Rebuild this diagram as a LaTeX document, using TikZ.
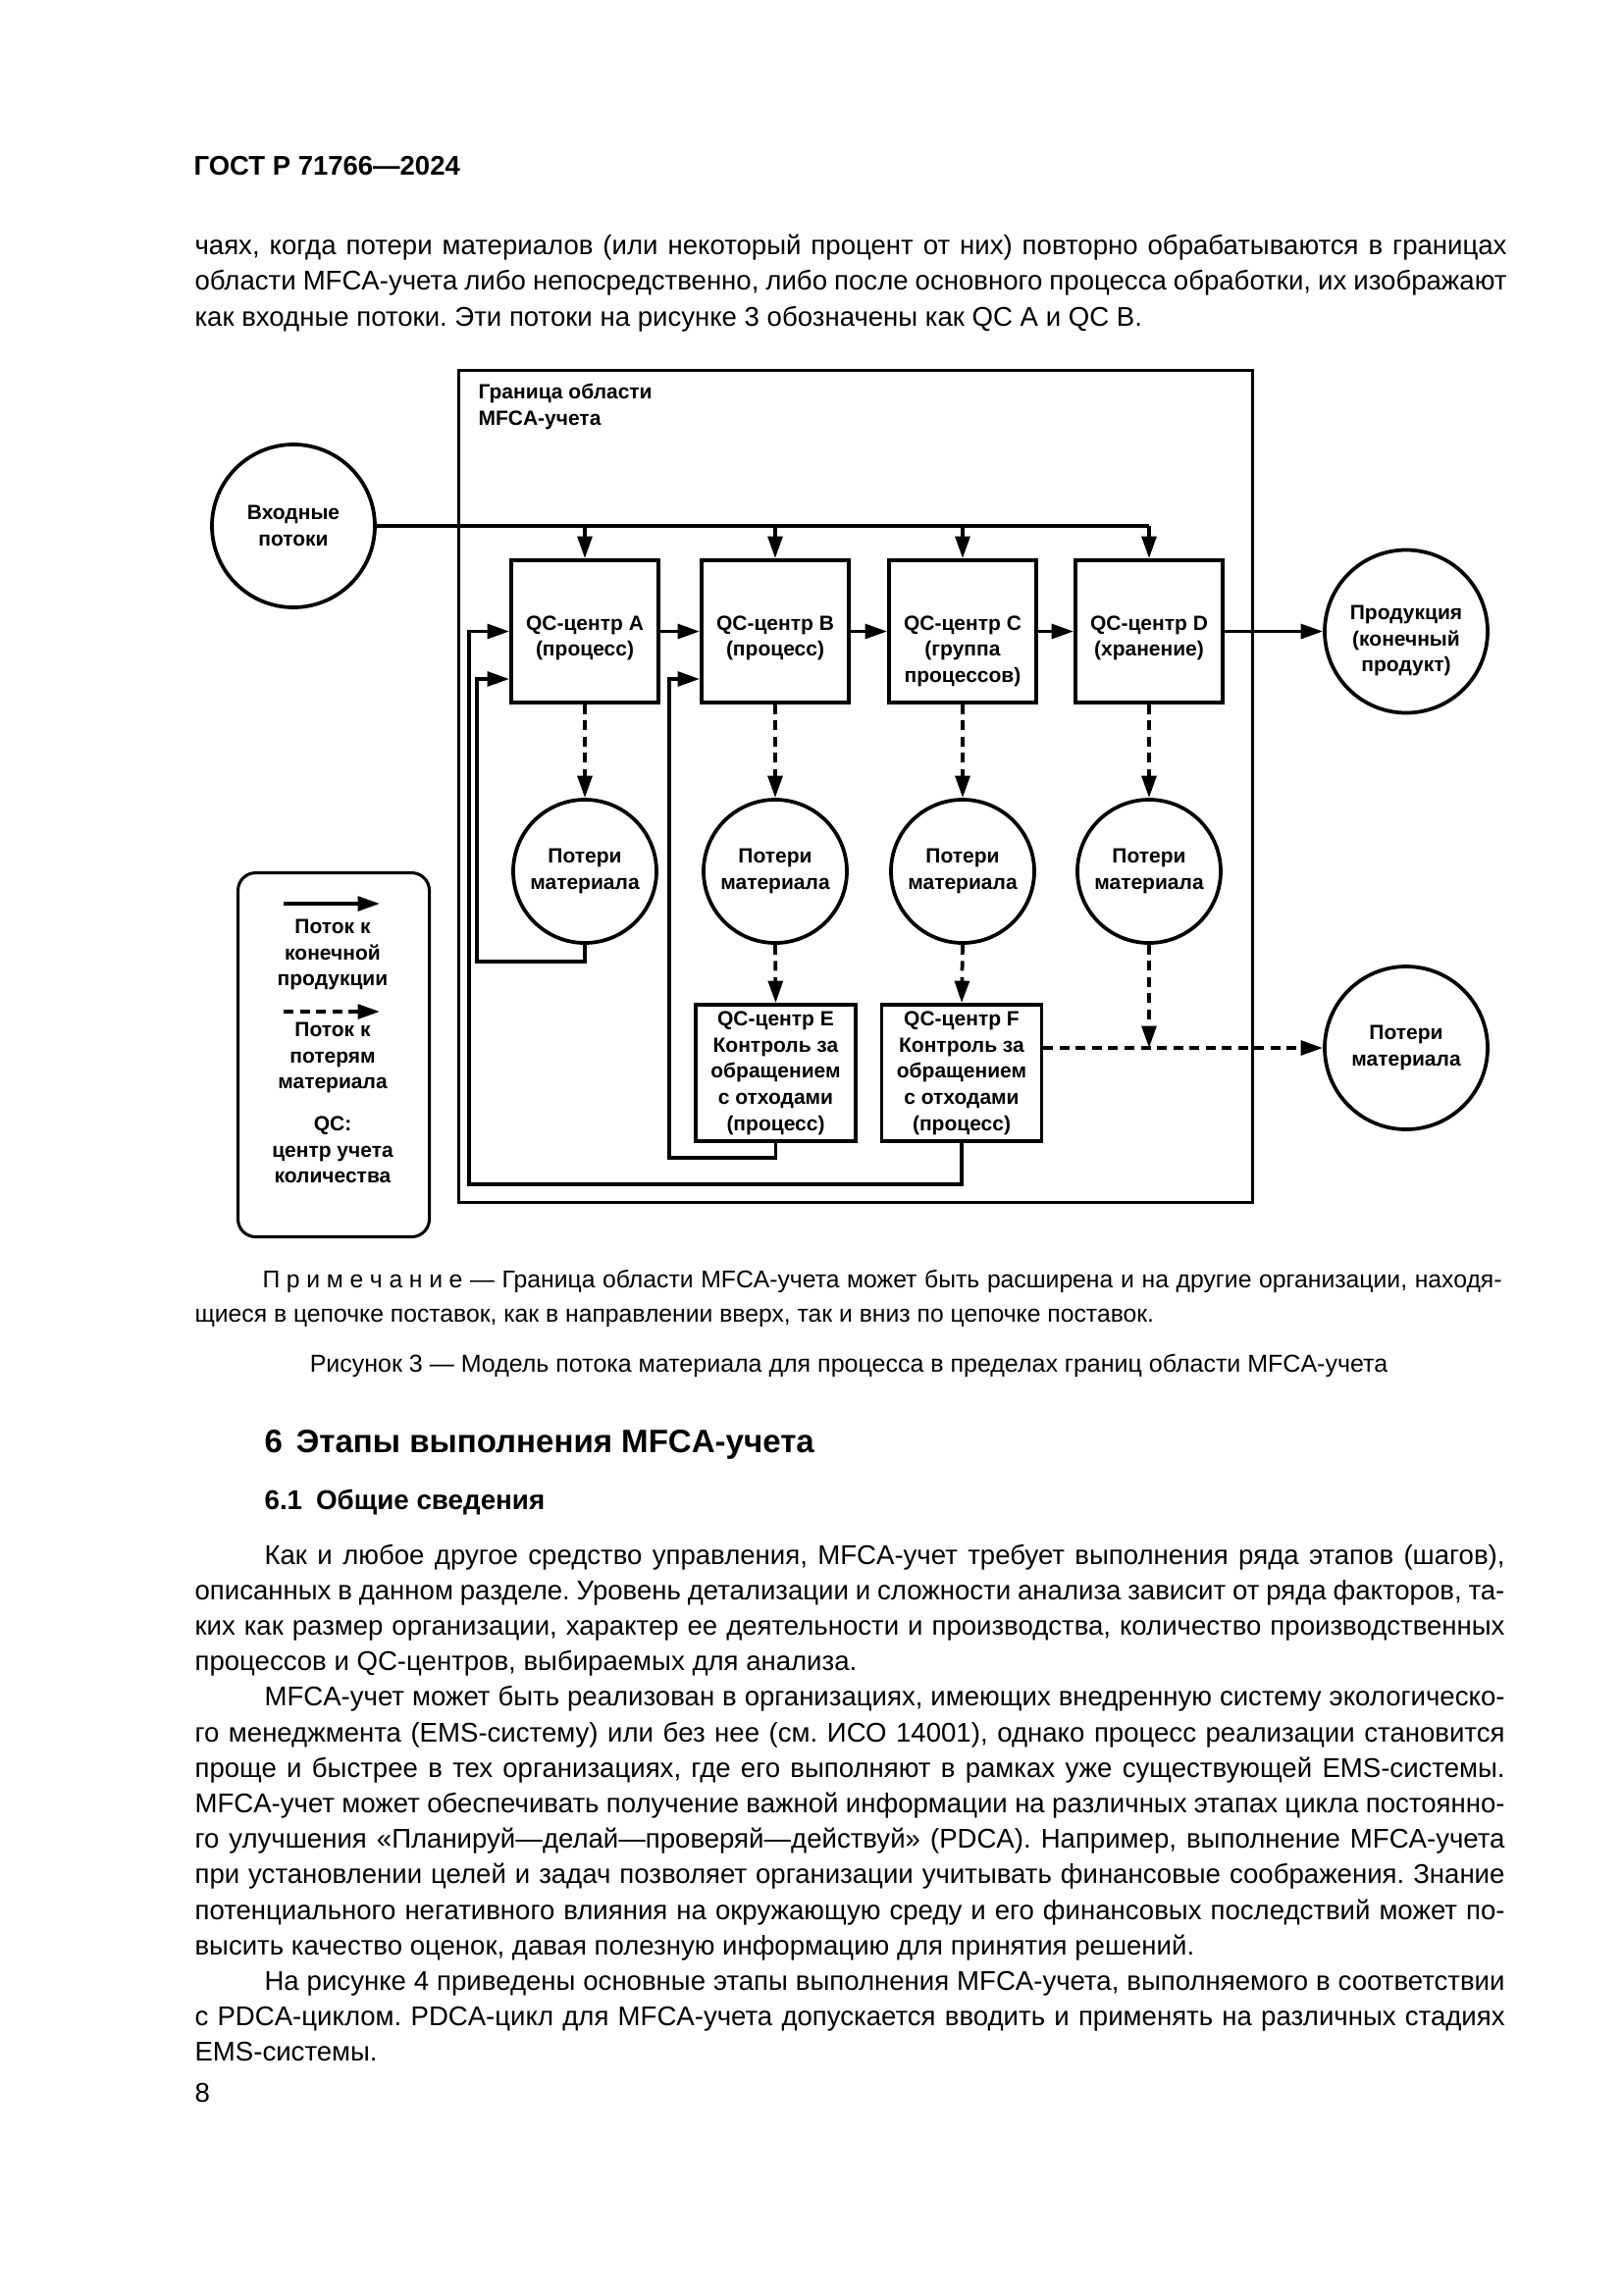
\documentclass[tikz,border=0pt]{standalone}
\usepackage{fontspec}
\setmainfont{Liberation Sans}
\usetikzlibrary{arrows.meta,calc}
\frenchspacing
\newdimen\pxu \pxu=0.36pt
\newcommand\bodyf{\fontsize{9.93pt}{13pt}\selectfont}
\newcommand\notef{\fontsize{8.9pt}{12pt}\selectfont}
\newcommand\capf{\fontsize{9pt}{12pt}\selectfont}
\newcommand\headf{\fontsize{9.9pt}{12pt}\selectfont\bfseries}
\newcommand\secf{\fontsize{11.9pt}{14pt}\selectfont\bfseries}
\newcommand\subhf{\fontsize{10pt}{13pt}\selectfont\bfseries}
\newcommand\dfont{\fontsize{7.56pt}{9.6pt}\selectfont\bfseries}
\newcommand\jline[5][\bodyf]{\node[anchor=base west,inner sep=0pt,font=#1] (#2) at (#3) {\hbox to #4\pxu{#5}};}
\newcommand\nline[4][\bodyf]{\node[anchor=base west,inner sep=0pt,font=#1] (#2) at (#3) {#4};}
\begin{document}
\begin{tikzpicture}[x=0.36pt,y=-0.36pt,
  ln/.style={line width=1.35pt},
  arr/.style={ln,-{Triangle[length=8.1pt,width=5.3pt]}},
  darr/.style={arr,dash pattern=on 3.6pt off 2.35pt},
  qbox/.style={draw,ln,minimum width=150\pxu,minimum height=145\pxu,inner sep=0pt},
  wbox/.style={draw,ln,minimum width=163\pxu,minimum height=139\pxu,inner sep=0pt,font=\dfont,align=center},
  circ/.style={draw,ln,circle,minimum size=146\pxu,inner sep=0pt,font=\dfont,align=center},
  bigcirc/.style={circ,minimum size=166\pxu},
  dtext/.style={font=\dfont,align=center,inner sep=0pt}]
\useasboundingbox[fill=white] (0,0) rectangle (1654,2339);

% ---- page header and upper text
\nline[\headf]{h0}{197,178}{ГОСТ Р 71766—2024}
\jline{p1}{198,259}{1337}{чаях, когда потери материалов (или некоторый процент от них) повторно обрабатываются в границах}
\jline{p2}{198,295}{1337}{области MFCA-учета либо непосредственно, либо после основного процесса обработки, их изображают}
\nline{p3}{198,332}{как входные потоки. Эти потоки на рисунке 3 обозначены как QC A и QC B.}

% ---- diagram
\node[draw,line width=1.05pt,minimum width=809\pxu,minimum height=848\pxu,anchor=north west,inner sep=0pt] (bound) at (466,376) {};
\node[dtext,anchor=north west,align=left] (btitle) at (487,391) {Граница области\\MFCA-учета};

\node[bigcirc] (in) at (299,536) {Входные\\потоки};
\node[qbox] (A) at (596,643.5) {};
\node[qbox] (B) at (790,643.5) {};
\node[qbox] (C) at (981,643.5) {};
\node[qbox] (D) at (1171,643.5) {};
\node[dtext,anchor=north] (tA) at (596,627) {QC-центр A\\(процесс)};
\node[dtext,anchor=north] (tB) at (790,627) {QC-центр B\\(процесс)};
\node[dtext,anchor=north] (tC) at (981,627) {QC-центр C\\(группа\\процессов)};
\node[dtext,anchor=north] (tD) at (1171,627) {QC-центр D\\(хранение)};
\node[bigcirc] (prod) at (1433,643.5) {};
\node[dtext] (tprod) at (1433,653) {Продукция\\(конечный\\продукт)};

\node[circ] (lA) at (596,888) {Потери\\материала};
\node[circ] (lB) at (790,888) {Потери\\материала};
\node[circ] (lC) at (981,888) {Потери\\материала};
\node[circ] (lD) at (1171,888) {Потери\\материала};

\node[wbox] (E) at (790.5,1093.5) {QC-центр E\\Контроль за\\обращением\\с отходами\\(процесс)};
\node[wbox] (F) at (980,1093.5) {QC-центр F\\Контроль за\\обращением\\с отходами\\(процесс)};
\node[bigcirc] (lout) at (1433,1068) {Потери\\материала};

% input distribution line
\coordinate (jD) at (D.north |- in.east);
\draw[ln] (in.east) -- (jD);
\foreach \X in {A,B,C,D} \draw[arr] (\X.north |- in.east) -- (\X.north);
% product flow
\draw[arr] (A.east) -- (B.west);
\draw[arr] (B.east) -- (C.west);
\draw[arr] (C.east) -- (D.west);
\draw[arr] (D.east) -- (prod.west);
% loss flow
\foreach \X in {A,B,C,D} \draw[darr] (\X.south) -- (l\X.north);
\draw[darr] (lB.south) -- (E.north);
\draw[darr] (lC.south) -- (F.north);
\draw[darr] (lD.south) -- (lD.south |- lout.west);
\draw[darr] (F.east |- lout.west) -- (lout.west);
% feedback
\draw[arr] (lA.south) |- (486,980) |- ($(A.west)+(0,48.5)$);
\draw[arr] (E.south) |- (682,1180) |- ($(B.west)+(0,48.5)$);
\draw[arr] (F.south) |- (478,1207) |- (A.west);

% legend
\node[draw,line width=1.1pt,rounded corners=6.5pt,minimum width=195\pxu,minimum height=371\pxu,anchor=north west,inner sep=0pt] (leg) at (241,888) {};
\coordinate (ls1) at (289,921); \coordinate (le1) at (387,921);
\coordinate (ls2) at (289,1031); \coordinate (le2) at (387,1031);
\draw[arr] (ls1) -- (le1);
\draw[darr] (ls2) -- (le2);
\node[dtext] (lt1) at (339,973) {Поток к\\конечной\\продукции};
\node[dtext] (lt2) at (339,1078) {Поток к\\потерям\\материала};
\node[dtext] (lt3) at (339,1172) {QC:\\центр учета\\количества};

% ---- note and caption
\jline[\notef]{n1}{267,1312}{1263}{П\kern2.4pt р\kern2.4pt и\kern2.4pt м\kern2.4pt е\kern2.4pt ч\kern2.4pt а\kern2.4pt н\kern2.4pt и\kern2.4pt е — Граница области MFCA-учета может быть расширена и на другие организации, находя-}
\nline[\notef]{n2}{198,1347}{щиеся в цепочке поставок, как в направлении вверх, так и вниз по цепочке поставок.}
\node[anchor=base,inner sep=0pt,font=\capf] (cap) at (865,1398) {Рисунок 3 — Модель потока материала для процесса в пределах границ области MFCA-учета};

% ---- section 6
\nline[\secf]{s6}{269,1480}{6\hspace{5pt}Этапы выполнения MFCA-учета}
\nline[\subhf]{s61}{269,1538}{6.1\hspace{5pt}Общие сведения}

\jline{b1}{269,1594}{1264}{Как и любое другое средство управления, MFCA-учет требует выполнения ряда этапов (шагов),}
\jline{b2}{198,1630.2}{1335}{описанных в данном разделе. Уровень детализации и сложности анализа зависит от ряда факторов, та-}
\jline{b3}{198,1666.4}{1335}{ких как размер организации, характер ее деятельности и производства, количество производственных}
\nline{b4}{198,1702.6}{процессов и QC-центров, выбираемых для анализа.}
\jline{b5}{269,1738.8}{1264}{MFCA-учет может быть реализован в организациях, имеющих внедренную систему экологическо-}
\jline{b6}{198,1775}{1335}{го менеджмента (EMS-систему) или без нее (см. ИСО 14001), однако процесс реализации становится}
\jline{b7}{198,1811.2}{1335}{проще и быстрее в тех организациях, где его выполняют в рамках уже существующей EMS-системы.}
\jline{b8}{198,1847.4}{1335}{MFCA-учет может обеспечивать получение важной информации на различных этапах цикла постоянно-}
\jline{b9}{198,1883.6}{1335}{го улучшения «Планируй—делай—проверяй—действуй» (PDCA). Например, выполнение MFCA-учета}
\jline{b10}{198,1919.8}{1335}{при установлении целей и задач позволяет организации учитывать финансовые соображения. Знание}
\jline{b11}{198,1956}{1335}{потенциального негативного влияния на окружающую среду и его финансовых последствий может по-}
\nline{b12}{198,1992.2}{высить качество оценок, давая полезную информацию для принятия решений.}
\jline{b13}{269,2028.4}{1264}{На рисунке 4 приведены основные этапы выполнения MFCA-учета, выполняемого в соответствии}
\jline{b14}{198,2064.6}{1335}{с PDCA-циклом. PDCA-цикл для MFCA-учета допускается вводить и применять на различных стадиях}
\nline{b15}{198,2100.8}{EMS-системы.}
\nline{pg}{198,2142}{8}
\end{tikzpicture}
\end{document}
